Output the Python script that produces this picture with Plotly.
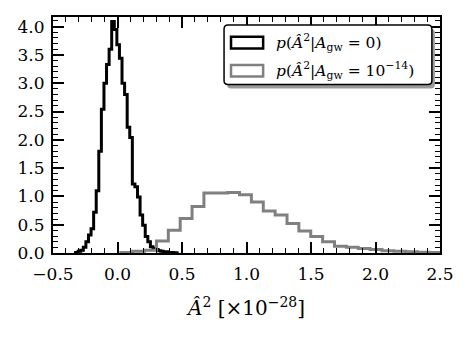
import plotly.graph_objects as go

# black histogram: A_gw = 0 (bin edges and densities)
null_edges = [-0.325, -0.305, -0.285, -0.265, -0.245, -0.225, -0.205, -0.185,
              -0.165, -0.145, -0.125, -0.105, -0.085, -0.065, -0.045, -0.025,
              -0.005, 0.015, 0.035, 0.055, 0.075, 0.095, 0.115, 0.135, 0.155,
              0.175, 0.195, 0.215, 0.235, 0.255, 0.275, 0.295, 0.315, 0.335,
              0.355, 0.375, 0.395, 0.415, 0.435, 0.455, 0.475]
null_dens = [0.01, 0.03, 0.05, 0.10, 0.20, 0.32, 0.43, 0.72, 1.10, 1.80,
             2.54, 3.00, 3.33, 3.60, 4.09, 3.95, 3.68, 3.44, 3.00, 2.80,
             2.22, 2.04, 1.22, 1.17, 0.99, 0.67, 0.49, 0.29, 0.20, 0.11,
             0.08, 0.06, 0.04, 0.03, 0.02, 0.02, 0.01, 0.01, 0.005, 0.0]

# gray histogram: A_gw = 1e-14
sig_edges = [0.026, 0.118, 0.210, 0.302, 0.394, 0.486, 0.578, 0.670, 0.762,
             0.854, 0.946, 1.038, 1.130, 1.222, 1.314, 1.406, 1.498, 1.590,
             1.682, 1.774, 1.866, 1.958, 2.050, 2.142, 2.234, 2.326, 2.418,
             2.510]
sig_dens = [0.01, 0.03, 0.05, 0.21, 0.40, 0.61, 0.82, 1.06, 1.06, 1.07,
            1.03, 0.90, 0.74, 0.67, 0.52, 0.39, 0.29, 0.20, 0.12, 0.10,
            0.08, 0.06, 0.04, 0.03, 0.02, 0.015, 0.01]

labels = ["<i>p</i>(<i>Â</i><sup>2</sup>|<i>A</i><sub>gw</sub> = 0)",
          "<i>p</i>(<i>Â</i><sup>2</sup>|<i>A</i><sub>gw</sub> = 10<sup>−14</sup>)"]
colors = ["black", "#808080"]

FONT = "DejaVu Serif, Liberation Serif, serif"


def step_xy(edges, dens):
    xs = [edges[0]] + list(edges)
    ys = [0] + list(dens) + [0]
    return xs, ys


fig = go.Figure()
for edges, dens, col in [(null_edges, null_dens, colors[0]),
                         (sig_edges, sig_dens, colors[1])]:
    xs, ys = step_xy(edges, dens)
    fig.add_trace(go.Scatter(x=xs, y=ys, mode="lines", line_shape="hv",
                             line=dict(color=col, width=3), showlegend=False))

# hand-made legend box (matplotlib style with shadow)
bx0, bx1, by0, by1 = 0.442, 0.979, 0.714, 0.966
rx, ry = 4 / 387, 4 / 238


def rounded(x0, x1, y0, y1):
    return (f"M {x0+rx},{y0} L {x1-rx},{y0} Q {x1},{y0} {x1},{y0+ry} "
            f"L {x1},{y1-ry} Q {x1},{y1} {x1-rx},{y1} L {x0+rx},{y1} "
            f"Q {x0},{y1} {x0},{y1-ry} L {x0},{y0+ry} Q {x0},{y0} {x0+rx},{y0} Z")


dx, dy = 3 / 387, 4 / 238
fig.add_shape(type="path", xref="paper", yref="paper",
              path=rounded(bx0 + dx, bx1 + dx, by0 - dy, by1 - dy),
              fillcolor="#9a9a9a", line=dict(width=0))
fig.add_shape(type="path", xref="paper", yref="paper",
              path=rounded(bx0, bx1, by0, by1),
              fillcolor="white", line=dict(color="black", width=1.5))

rows = [(0.867, 0.916, 0.891), (0.748, 0.797, 0.773)]
for (y0, y1, yc), col, lab in zip(rows, colors, labels):
    fig.add_shape(type="rect", xref="paper", yref="paper",
                  x0=0.460, x1=0.543, y0=y0, y1=y1,
                  line=dict(color=col, width=2.5), fillcolor="white")
    fig.add_annotation(xref="paper", yref="paper", x=0.572, y=yc,
                       text=lab, showarrow=False, xanchor="left",
                       yanchor="middle",
                       font=dict(family=FONT, size=15.5, color="black"))

axis_common = dict(showline=True, linewidth=2, linecolor="black",
                   mirror="allticks", ticks="inside", tickwidth=1.5,
                   tickcolor="black", showgrid=False, zeroline=False,
                   tickfont=dict(family=FONT, size=17, color="black"))

fig.update_xaxes(range=[-0.5, 2.5], tick0=0, dtick=0.5, tickformat=".1f",
                 ticklen=11, ticklabelstandoff=5,
                 minor=dict(dtick=0.1, ticklen=5, tickwidth=1.2,
                            ticks="inside", tickcolor="black"),
                 title=dict(text="<i>Â</i><sup>2</sup> [×10<sup>−28</sup>]",
                            font=dict(family=FONT, size=20, color="black"),
                            standoff=18),
                 **axis_common)
fig.update_yaxes(range=[0, 4.17], tick0=0, dtick=0.5, tickformat=".1f",
                 ticklen=11, ticklabelstandoff=3,
                 minor=dict(dtick=0.1, ticklen=5, tickwidth=1.2,
                            ticks="inside", tickcolor="black"),
                 **axis_common)

# page body adds an 8 px offset, so margins are shifted to compensate
fig.update_layout(width=470, height=339,
                  margin=dict(l=45, r=38, t=7, b=94),
                  plot_bgcolor="white", paper_bgcolor="white",
                  font=dict(family=FONT, color="black"))

fig.write_html("out.html")
